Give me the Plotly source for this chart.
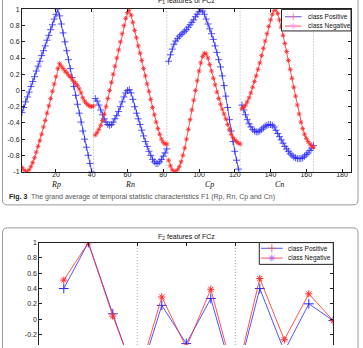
import plotly.graph_objects as go

W, H = 363, 348

# ---------------- data : F1 features (top panel) ----------------
segment_names = ["Rp", "Rn", "Cp", "Cn"]
segment_len = 41
boundaries_f1 = [41, 82, 123, 164]

rp_pos = [-0.27, -0.21, -0.14, -0.08, -0.02, 0.05, 0.11, 0.17, 0.24, 0.30,
          0.36, 0.43, 0.49, 0.55, 0.62, 0.68, 0.75, 0.81, 0.88, 0.94,
          1.00, 0.92, 0.82, 0.71, 0.60, 0.49, 0.38, 0.27, 0.16, 0.05,
          -0.06, -0.17, -0.28, -0.39, -0.50, -0.60, -0.70, -0.80, -0.90, -1.00, -1.08]
rp_neg = [-0.95, -0.98, -1.00, -1.00, -0.98, -0.94, -0.89, -0.83, -0.76, -0.69,
          -0.62, -0.54, -0.45, -0.37, -0.28, -0.19, -0.10, -0.01, 0.08, 0.17,
          0.27, 0.33, 0.30, 0.27, 0.24, 0.22, 0.19, 0.17, 0.14, 0.11,
          0.09, 0.06, 0.02, -0.03, -0.09, -0.13, -0.16, -0.18, -0.195, -0.20, -0.19]
rn_pos = [-0.10, -0.13, -0.18, -0.24, -0.30, -0.35, -0.39, -0.42, -0.43, -0.42,
          -0.39, -0.35, -0.31, -0.26, -0.20, -0.14, -0.08, -0.03, 0.00, 0.01,
          -0.03, -0.11, -0.20, -0.28, -0.35, -0.42, -0.49, -0.56, -0.63, -0.69,
          -0.75, -0.80, -0.85, -0.88, -0.90, -0.90, -0.88, -0.85, -0.81, -0.77, -0.72]
rn_neg = [-0.55, -0.52, -0.48, -0.43, -0.37, -0.29, -0.20, -0.10, 0.00, 0.10,
          0.20, 0.30, 0.40, 0.50, 0.60, 0.70, 0.80, 0.89, 0.96, 1.00,
          0.93, 0.84, 0.74, 0.65, 0.55, 0.46, 0.37, 0.27, 0.18, 0.08,
          -0.01, -0.11, -0.21, -0.30, -0.39, -0.47, -0.54, -0.60, -0.64, -0.66, -0.66]
cp_pos = [0.36, 0.44, 0.51, 0.57, 0.61, 0.64, 0.67, 0.69, 0.71, 0.73,
          0.75, 0.78, 0.81, 0.84, 0.87, 0.91, 0.94, 0.97, 1.00, 0.98,
          0.94, 0.88, 0.82, 0.76, 0.70, 0.63, 0.55, 0.47, 0.38, 0.29,
          0.18, 0.06, -0.07, -0.21, -0.36, -0.50, -0.63, -0.75, -0.86, -0.97, -1.06]
cp_neg = [-0.86, -0.93, -0.98, -1.00, -1.00, -0.98, -0.94, -0.88, -0.80, -0.71,
          -0.60, -0.48, -0.36, -0.24, -0.12, 0.00, 0.12, 0.24, 0.34, 0.42,
          0.46, 0.45, 0.40, 0.32, 0.24, 0.15, 0.07, -0.02, -0.10, -0.17,
          -0.23, -0.29, -0.35, -0.42, -0.48, -0.54, -0.58, -0.61, -0.63, -0.65, -0.66]
cn_pos = [-0.18, -0.24, -0.30, -0.36, -0.41, -0.45, -0.48, -0.50, -0.51, -0.51,
          -0.50, -0.48, -0.46, -0.44, -0.43, -0.42, -0.42, -0.43, -0.45, -0.49,
          -0.53, -0.57, -0.61, -0.65, -0.69, -0.72, -0.75, -0.78, -0.80, -0.82,
          -0.83, -0.84, -0.84, -0.84, -0.83, -0.81, -0.79, -0.77, -0.74, -0.71, -0.68]
cn_neg = [-0.22, -0.21, -0.18, -0.14, -0.09, -0.03, 0.04, 0.11, 0.18, 0.26,
          0.34, 0.43, 0.52, 0.61, 0.70, 0.79, 0.87, 0.94, 0.99, 1.00,
          0.95, 0.87, 0.78, 0.68, 0.58, 0.48, 0.37, 0.26, 0.15, 0.04,
          -0.07, -0.18, -0.29, -0.39, -0.47, -0.54, -0.59, -0.63, -0.66, -0.68, -0.70]

f1_pos_segments = [rp_pos, rn_pos, cp_pos, cn_pos]
f1_neg_segments = [rp_neg, rn_neg, cp_neg, cn_neg]

f1_xticks = [20, 40, 60, 80, 100, 120, 140, 160, 180]
f1_xticktext = ["20", "40", "60", "80", "100", "120", "140", "160", "180"]
f1_yticks = [-1, -0.8, -0.6, -0.4, -0.2, 0, 0.2, 0.4, 0.6, 0.8, 1]
f1_yticktext = ["-1", "-0.8", "-0.6", "-0.4", "-0.2", "0", "0.2", "0.4", "0.6", "0.8", "1"]
segment_label_x = [20, 61.4, 105.8, 145]

# ---------------- data : F2 features (bottom panel) ----------------
f2_x = [1, 2, 3, 4, 5, 6, 7, 8, 9, 10, 11, 12]
f2_pos = [0.40, 1.00, 0.07, -0.85, 0.18, -0.32, 0.27, -0.85, 0.40, -0.42, 0.20, -0.02]
f2_neg = [0.51, 1.00, 0.04, -0.80, 0.29, -0.37, 0.39, -0.80, 0.53, -0.27, 0.33, -0.02]
boundaries_f2 = [4, 8]
f2_xticks = [0, 2, 4, 6, 8, 10, 12]
f2_yticks = [-1, -0.8, -0.6, -0.4, -0.2, 0, 0.2, 0.4, 0.6, 0.8, 1]
f2_yticktext = ["-1", "-0.8", "-0.6", "-0.4", "-0.2", "0", "0.2", "0.4", "0.6", "0.8", "1"]

legend_names = ["class Positive", "class Negative"]

BLUE = "rgb(40,40,255)"
RED = "rgb(255,40,40)"
FONT = "Liberation Sans, Arial, sans-serif"


def px(x):
    return x / W


def py(y):
    return 1 - y / H


fig = go.Figure()


def seg_xy(segs):
    xs, ys = [], []
    for k, vals in enumerate(segs):
        xs += [k * segment_len + 1 + i for i in range(len(vals))] + [None]
        ys += list(vals) + [None]
    return xs, ys


xp, yp = seg_xy(f1_pos_segments)
xn, yn = seg_xy(f1_neg_segments)
fig.add_trace(go.Scatter(x=xp, y=yp, mode="lines+markers", name=legend_names[0],
                         line=dict(color=BLUE, width=0.8),
                         marker=dict(symbol="cross-thin-open", size=5,
                                     line=dict(color=BLUE, width=0.8)),
                         xaxis="x", yaxis="y", showlegend=False))
fig.add_trace(go.Scatter(x=xn, y=yn, mode="lines+markers", name=legend_names[1],
                         line=dict(color=RED, width=0.8),
                         marker=dict(symbol="asterisk-open", size=4,
                                     line=dict(color=RED, width=0.8)),
                         xaxis="x", yaxis="y", showlegend=False))

fig.add_trace(go.Scatter(x=f2_x, y=f2_pos, mode="lines+markers", name=legend_names[0],
                         line=dict(color=BLUE, width=0.8),
                         marker=dict(symbol="cross-thin-open", size=7,
                                     line=dict(color=BLUE, width=1)),
                         xaxis="x2", yaxis="y2", showlegend=False))
fig.add_trace(go.Scatter(x=f2_x, y=f2_neg, mode="lines+markers", name=legend_names[1],
                         line=dict(color=RED, width=0.8),
                         marker=dict(symbol="asterisk-open", size=6,
                                     line=dict(color=RED, width=1)),
                         xaxis="x2", yaxis="y2", showlegend=False))

# ---- manual legends drawn on a pixel overlay axis ----
legend_boxes = [
    dict(x0=281.5, x1=351, y0=5.5, y1=27.5, lx0=285, lx1=301.5, ys=[13, 22.5], tx=305.5, msize=5),
    dict(x0=259.3, x1=333.3, y0=243.5, y1=265.7, lx0=261, lx1=282.7, ys=[249.3, 259.3], tx=285.5, msize=6),
]
for lb in legend_boxes:
    fig.add_trace(go.Scatter(x=[lb["x0"], lb["x1"], lb["x1"], lb["x0"], lb["x0"]],
                             y=[lb["y0"], lb["y0"], lb["y1"], lb["y1"], lb["y0"]],
                             mode="lines", fill="toself", fillcolor="white",
                             line=dict(color="#222", width=1),
                             xaxis="x3", yaxis="y3", showlegend=False, hoverinfo="skip"))
    for i, (col, sym) in enumerate([(BLUE, "cross-thin-open"), (RED, "asterisk-open")]):
        yy = lb["ys"][i]
        fig.add_trace(go.Scatter(x=[lb["lx0"], lb["lx1"]], y=[yy, yy], mode="lines",
                                 line=dict(color=col, width=0.8),
                                 xaxis="x3", yaxis="y3", showlegend=False, hoverinfo="skip"))
        fig.add_trace(go.Scatter(x=[(lb["lx0"] + lb["lx1"]) / 2], y=[yy], mode="markers",
                                 marker=dict(symbol=sym, size=lb["msize"],
                                             line=dict(color=col, width=0.8)),
                                 xaxis="x3", yaxis="y3", showlegend=False, hoverinfo="skip"))

annotations = []
for lb in legend_boxes:
    for i, nm in enumerate(legend_names):
        annotations.append(dict(x=px(lb["tx"]), y=py(lb["ys"][i]), xref="paper", yref="paper",
                                text=nm, showarrow=False, xanchor="left", yanchor="middle",
                                font=dict(family=FONT, size=6.5, color="#111")))

annotations.append(dict(x=px(186.5), y=py(-3), xref="paper", yref="paper",
                        text="F<sub>1</sub> features of FCz", showarrow=False,
                        xanchor="center", yanchor="middle",
                        font=dict(family=FONT, size=7, color="#111")))
annotations.append(dict(x=px(186.3), y=py(237.7), xref="paper", yref="paper",
                        text="F<sub>2</sub> features of FCz", showarrow=False,
                        xanchor="center", yanchor="middle",
                        font=dict(family=FONT, size=7, color="#111")))
for name, sx in zip(segment_names, segment_label_x):
    annotations.append(dict(x=sx, y=py(184.5), xref="x", yref="paper",
                            text="<i>" + name + "</i>", showarrow=False,
                            xanchor="center", yanchor="middle",
                            font=dict(family="Liberation Serif, Times New Roman, serif",
                                      size=8, color="#111")))
annotations.append(dict(x=px(7), y=py(196.5), xref="paper", yref="paper",
                        text="<b>Fig. 3</b>  <span style='color:#555'>The grand average of temporal "
                             "statistic characteristics F1 (Rp, Rn, Cp and Cn)</span>",
                        showarrow=False, xanchor="left", yanchor="middle",
                        font=dict(family=FONT, size=7, color="#222")))


def rounded_path(x0, y0, x1, y1, r):
    pts = [
        ("M", [(x0 + r, y0)]), ("L", [(x1 - r, y0)]), ("Q", [(x1, y0), (x1, y0 + r)]),
        ("L", [(x1, y1 - r)]), ("Q", [(x1, y1), (x1 - r, y1)]), ("L", [(x0 + r, y1)]),
        ("Q", [(x0, y1), (x0, y1 - r)]), ("L", [(x0, y0 + r)]), ("Q", [(x0, y0), (x0 + r, y0)]),
    ]
    s = ""
    for cmd, coords in pts:
        s += cmd + " " + " ".join(f"{px(a):.5f},{py(b):.5f}" for a, b in coords) + " "
    return s + "Z"


shapes = []
shapes.append(dict(type="path", xref="paper", yref="paper",
                   path=rounded_path(2.5, -20, 358, 205, 5),
                   line=dict(color="#999", width=1), layer="below"))
shapes.append(dict(type="path", xref="paper", yref="paper",
                   path=rounded_path(2.5, 228.5, 358, 400, 5),
                   line=dict(color="#999", width=1), layer="below"))
for b in boundaries_f1:
    shapes.append(dict(type="line", xref="x", yref="y domain", x0=b, x1=b, y0=0, y1=1,
                       line=dict(color="#aaa", width=1, dash="1px,2px"), layer="below"))
for b in boundaries_f2:
    shapes.append(dict(type="line", xref="x2", yref="y2 domain", x0=b, x1=b, y0=0, y1=1,
                       line=dict(color="#aaa", width=1, dash="1px,2px"), layer="below"))

axis_common = dict(showgrid=False, zeroline=False, showline=True, linecolor="#222",
                   linewidth=1, ticks="inside", ticklen=3, tickcolor="#222",
                   tickfont=dict(family=FONT, size=7, color="#222"), fixedrange=True)

fig.update_layout(
    width=W, height=H, margin=dict(l=0, r=0, t=0, b=0),
    paper_bgcolor="white", plot_bgcolor="rgba(0,0,0,0)",
    showlegend=False,
    xaxis=dict(domain=[px(22), px(351)], range=[1, 185], anchor="y", mirror="ticks",
               tickvals=f1_xticks, ticktext=f1_xticktext, ticklabelstandoff=-4, **axis_common),
    yaxis=dict(domain=[py(171), py(5.5)], range=[-1, 1], anchor="x", mirror="ticks",
               tickvals=f1_yticks, ticktext=f1_yticktext, **axis_common),
    xaxis2=dict(domain=[px(39.3), px(333.3)], range=[0, 12], anchor="y2", side="top",
                tickvals=f2_xticks, showticklabels=False, mirror=False, **axis_common),
    yaxis2=dict(domain=[0, py(243.5)], range=[-0.338, 1], anchor="x2", mirror="ticks",
                tickvals=f2_yticks, ticktext=f2_yticktext, **axis_common),
    xaxis3=dict(domain=[0, 1], range=[0, W], anchor="y3", visible=False, fixedrange=True),
    yaxis3=dict(domain=[0, 1], range=[H, 0], anchor="x3", visible=False, fixedrange=True),
    annotations=annotations, shapes=shapes,
)

fig.write_html("out.html")
